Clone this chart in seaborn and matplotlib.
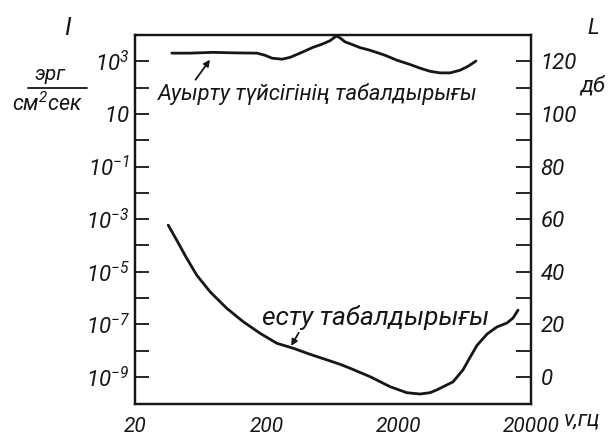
import numpy as np
import matplotlib
matplotlib.use("Agg")
import matplotlib.pyplot as plt
from matplotlib.ticker import FixedLocator, NullLocator, NullFormatter
import seaborn as sns
import pandas as pd

sns.set_theme(style="white")
plt.rcParams["font.family"] = ["Roboto", "DejaVu Sans"]
plt.rcParams["mathtext.fontset"] = "custom"
plt.rcParams["mathtext.rm"] = "Roboto:italic"
plt.rcParams["mathtext.it"] = "Roboto:italic"
plt.rcParams["mathtext.default"] = "it"

INK = "#161616"

# Threshold of pain: frequency (Hz) and level (dB)
pain_freq = [38, 52, 78, 114, 168, 193, 218, 260, 299, 356, 446, 522, 600, 644, 670, 715, 780, 851,
             1013, 1206, 1566, 1932, 2423, 2885, 3435, 4090, 4870, 5800, 6670, 7660]
pain_db = [123.1, 123.1, 123.4, 123.2, 123.1, 122.3, 121.2, 120.8, 121.5, 123.1, 125.3, 126.5, 127.8, 129.0,
           129.6, 128.9, 127.4, 126.7, 125.2, 124.2, 122.3, 120.4, 118.8, 117.4, 116.2, 115.6, 115.6, 116.6,
           118.1, 120.1]

# Threshold of hearing: frequency (Hz) and level (dB)
hear_freq = [35.7, 41.4, 49.3, 58.7, 74, 99, 132, 177, 237, 316, 424, 567, 715, 851, 1206, 1710, 2286,
             2885, 3435, 3880, 5130, 6110, 6900, 7800, 9290, 11040, 13150, 14620, 15950]
hear_db = [57.7, 52.0, 45.1, 38.7, 32.4, 26.1, 21.0, 16.6, 12.8, 10.9, 8.6, 6.5, 4.8, 3.3, 0.1, -3.7, -6.0,
           -6.5, -6.0, -4.9, -1.9, 2.7, 7.4, 12.0, 16.3, 19.0, 20.5, 22.4, 25.4]

x_ticks = [20, 200, 2000, 20000]
x_tick_labels = ["20", "200", "2000", "20000"]
i_major = [1e-9, 1e-7, 1e-5, 1e-3, 1e-1, 1e1, 1e3]
i_major_labels = ["$10^{-9}$", "$10^{-7}$", "$10^{-5}$", "$10^{-3}$", "$10^{-1}$", "$10$", "$10^{3}$"]
i_minor = [1e-8, 1e-6, 1e-4, 1e-2, 1e0, 1e2]
db_major = [0, 20, 40, 60, 80, 100, 120]
db_minor = [10, 30, 50, 70, 90, 110]

pain = pd.DataFrame({"freq": pain_freq, "db": pain_db})
hear = pd.DataFrame({"freq": hear_freq, "db": hear_db})

fig = plt.figure(figsize=(6.12, 4.36), dpi=100)
ax = fig.add_axes([135 / 612, 1 - 404 / 436, (531 - 135) / 612, (404 - 35) / 436])
ax.set_facecolor("white")
ax.set_xscale("log")
ax.set_yscale("log")
ax.set_xlim(20, 20000)
ax.set_ylim(10 ** -10.03, 1e4)

ax2 = ax.twinx()
ax2.set_ylim(-10.3, 130)

line_kw = dict(color=INK, lw=2.0, sort=False, solid_joinstyle="round", solid_capstyle="round")
sns.lineplot(data=pain, x="freq", y="db", ax=ax2, **line_kw)
sns.lineplot(data=hear, x="freq", y="db", ax=ax2, **line_kw)
ax2.set_xscale("log")
ax2.set_xlim(20, 20000)
ax2.set_xlabel("")
ax2.set_ylabel("")

tick_font = dict(fontsize=16, style="italic", color=INK)

ax.xaxis.set_major_locator(FixedLocator(x_ticks))
ax.xaxis.set_minor_locator(NullLocator())
ax.set_xticklabels(x_tick_labels, fontsize=15, style="italic", color=INK)
ax.yaxis.set_major_locator(FixedLocator(i_major))
ax.yaxis.set_minor_locator(FixedLocator(i_minor))
ax.yaxis.set_minor_formatter(NullFormatter())
ax.set_yticklabels(i_major_labels, fontsize=16, color=INK)
ax.tick_params(axis="x", which="both", direction="in", length=8, width=1.3, colors=INK, pad=9, top=False)
ax.tick_params(axis="y", which="both", direction="in", length=10, width=1.3, colors=INK, pad=4)

ax2.yaxis.set_major_locator(FixedLocator(db_major))
ax2.yaxis.set_minor_locator(FixedLocator(db_minor))
ax2.set_yticklabels([str(v) for v in db_major], **tick_font)
ax2.tick_params(axis="y", which="both", direction="in", length=11, width=1.3, colors=INK, pad=7)

for a in (ax, ax2):
    for s in a.spines.values():
        s.set_color(INK)
        s.set_linewidth(1.6)

# Axis titles
fig.text(67 / 612, 1 - 28 / 436, "I", fontsize=18, style="italic", color=INK, ha="center", va="center")
fig.text(50 / 612, 1 - 75 / 436, "эрг", fontsize=15, style="italic", color=INK, ha="center", va="center")
fig.add_artist(plt.Line2D([28 / 612, 87 / 612], [1 - 88 / 436, 1 - 88 / 436], color=INK, lw=1.3))
fig.text(48 / 612, 1 - 104 / 436, "см$^{2}$сек", fontsize=15.5, style="italic", color=INK, ha="center", va="center")
fig.text(593 / 612, 1 - 28 / 436, "L", fontsize=16, style="italic", color=INK, ha="center", va="center")
fig.text(593 / 612, 1 - 86 / 436, "дб", fontsize=16, style="italic", color=INK, ha="center", va="center")
fig.text(564 / 612, 1 - 420 / 436, "ν,гц", fontsize=16, style="italic", color=INK, ha="left", va="center")

# Curve labels with pointers
ax2.annotate("Ауырту түйсігінің табалдырығы", xy=(74, 120.6), xytext=(158 / 612, 1 - 94 / 436),
             textcoords="figure fraction", fontsize=15.8, style="italic", color=INK, ha="left", va="center",
             arrowprops=dict(arrowstyle="-|>", color=INK, lw=1.3, mutation_scale=9,
                             shrinkA=0, shrinkB=0, relpos=(0.11, 1.0)))
ax2.annotate("есту табалдырығы", xy=(305, 11.8), xytext=(262 / 612, 1 - 317 / 436),
             textcoords="figure fraction", fontsize=19, style="italic", color=INK, ha="left", va="center",
             arrowprops=dict(arrowstyle="-|>", color=INK, lw=1.3, mutation_scale=9,
                             shrinkA=0, shrinkB=0, relpos=(0.17, 0.0)))

fig.savefig("out.png", dpi=100, facecolor="white")
